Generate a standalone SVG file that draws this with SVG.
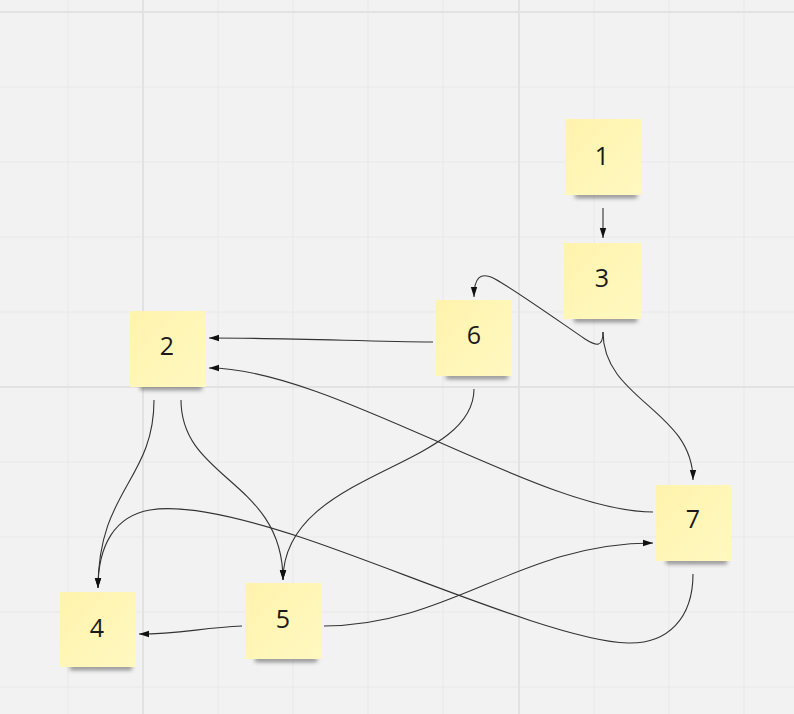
<svg xmlns="http://www.w3.org/2000/svg" width="794" height="714" viewBox="0 0 794 714">
<style>
.minor{stroke:#e8e8e8;stroke-width:1}
.major{stroke:#e2e2e2;stroke-width:2}
.note{fill:url(#ng)}
.shadow{fill:#333;opacity:0.55;filter:url(#blur)}
.lbl{font-family:"Open Sans","Noto Sans",sans-serif;font-size:25px;fill:#1a1a1a;text-anchor:middle;dominant-baseline:central}
.edge{fill:none;stroke:#333;stroke-width:1.1;marker-end:url(#ah)}
</style>
<defs>
<linearGradient id="ng" x1="0" y1="0" x2="1" y2="1">
<stop offset="0" stop-color="#fff3ad"/>
<stop offset="1" stop-color="#fff8c0"/>
</linearGradient>
<filter id="blur" x="-20%" y="-200%" width="140%" height="500%"><feGaussianBlur stdDeviation="2.2"/></filter>
<marker id="ah" viewBox="0 0 10 10" refX="10" refY="5" markerWidth="10" markerHeight="10" markerUnits="userSpaceOnUse" orient="auto">
<path d="M0,1.8 L10,5 L0,8.2 Z" fill="#111"/>
</marker>
</defs>
<rect width="794" height="714" fill="#f2f2f2"/>
<g id="grid">
<path class="minor" d="M68,0V714M218,0V714M293,0V714M368,0V714M443,0V714M594,0V714M669,0V714M744,0V714M0,87H794M0,162H794M0,237H794M0,312H794M0,462H794M0,537H794M0,612H794M0,687H794"/>
<path class="major" d="M143,0V714M519,0V714M0,12H794M0,387H794"/>
</g>
<g id="connectors">
<path class="edge" d="M603,208 L603,238"/>
<path class="edge" d="M433,342 C360,341 280,338 209,338"/>
<path class="edge" d="M653,512 C540,512 330,368 209,368"/>
<path class="edge" d="M603,332 C603,348 596,346 585,339 C560,322 515,290 495,279 C480,271 474,278 474,297"/>
<path class="edge" d="M603,332 C603,400 693,410 693,480"/>
<path class="edge" d="M474,389 C474,470 283,470 283,580"/>
<path class="edge" d="M154,400 C154,480 98,490 98,588"/>
<path class="edge" d="M181,400 C181,480 283,480 283,580"/>
<path class="edge" d="M693,574 C693,618 668,644 628,643 C560,641 400,570 300,537 C230,514 180,505 150,510 C115,516 98,545 98,588"/>
<path class="edge" d="M242,626 C200,628 180,634 139,634"/>
<path class="edge" d="M324,626 C450,626 520,543 653,543"/>
</g>
<g id="node1"><rect class="shadow" x="575" y="193" width="62" height="5"/><rect class="note" x="565" y="119" width="76" height="76"/><text class="lbl" x="602" y="155">1</text></g>
<g id="node3"><rect class="shadow" x="574" y="317" width="63" height="5"/><rect class="note" x="564" y="243" width="77" height="76"/><text class="lbl" x="602" y="277">3</text></g>
<g id="node2"><rect class="shadow" x="140" y="385" width="62" height="5"/><rect class="note" x="130" y="311" width="76" height="76"/><text class="lbl" x="167" y="345">2</text></g>
<g id="node6"><rect class="shadow" x="446" y="374" width="62" height="5"/><rect class="note" x="436" y="300" width="76" height="76"/><text class="lbl" x="474" y="334">6</text></g>
<g id="node7"><rect class="shadow" x="666" y="559" width="61" height="5"/><rect class="note" x="656" y="485" width="75" height="76"/><text class="lbl" x="693" y="518">7</text></g>
<g id="node4"><rect class="shadow" x="70" y="665" width="62" height="5"/><rect class="note" x="60" y="592" width="76" height="75"/><text class="lbl" x="97" y="627">4</text></g>
<g id="node5"><rect class="shadow" x="255" y="657" width="62" height="5"/><rect class="note" x="245" y="583" width="76" height="76"/><text class="lbl" x="283" y="618">5</text></g>
</svg>
